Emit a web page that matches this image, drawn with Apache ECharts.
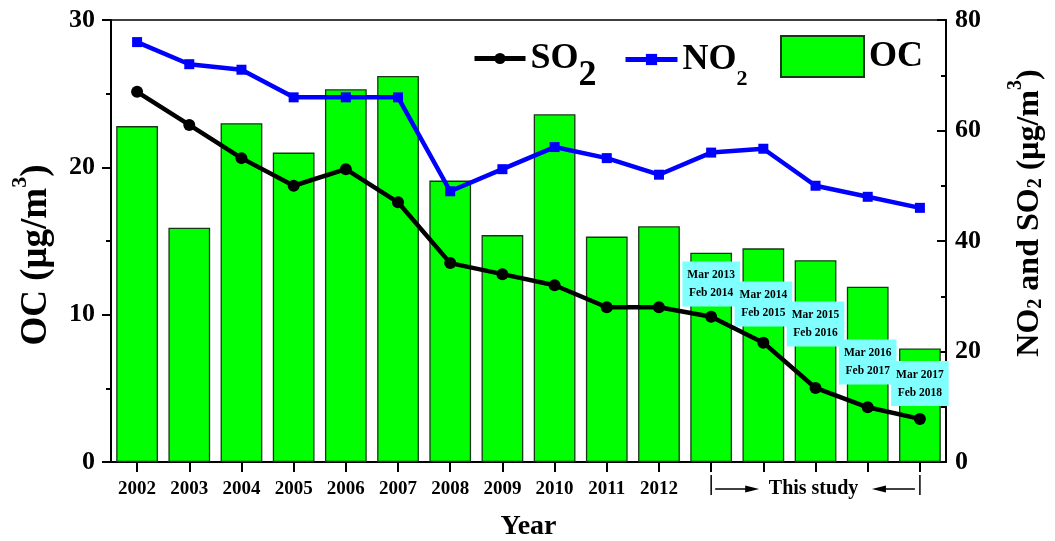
<!DOCTYPE html>
<html><head><meta charset="utf-8">
<script src="https://cdn.jsdelivr.net/npm/echarts@6/dist/echarts.min.js"></script>
<style>html,body{margin:0;padding:0;background:#fff}#c{width:1055px;height:541px}</style>
</head><body><div id="c"></div>
<script>
const categories = ['2002','2003','2004','2005','2006','2007','2008','2009','2010','2011','2012','2013-2014','2014-2015','2015-2016','2016-2017','2017-2018'];
const tickLabels = ['2002','2003','2004','2005','2006','2007','2008','2009','2010','2011','2012','','','','',''];
const ocValues  = [22.8,15.9,23.0,21.0,25.3,26.2,19.1,15.4,23.6,15.3,16.0,14.2,14.5,13.7,11.9,7.7];
const no2Values = [76,72,71,66,66,66,49,53,57,55,52,56,56.7,50,48,46];
const so2Values = [67,61,55,50,53,47,36,34,32,28,28,26.3,21.6,13.4,9.9,7.8];
const studyNotes = ['Mar 2013\nFeb 2014','Mar 2014\nFeb 2015','Mar 2015\nFeb 2016','Mar 2016\nFeb 2017','Mar 2017\nFeb 2018'];
const studyCats = categories.slice(11);
const noteLevels = [32.2,28.6,25.0,18.1,14.2];

const F = 'Liberation Serif, Times New Roman, serif';
const chart = echarts.init(document.getElementById('c'));

const bold = {fontFamily: F, fontWeight: 'bold', color: '#000'};
const richSO = {
  a: Object.assign({fontSize: 36, lineHeight: 36, verticalAlign: 'middle'}, bold),
  b: Object.assign({fontSize: 36, lineHeight: 71, verticalAlign: 'bottom'}, bold)
};
const richNO = {
  a: Object.assign({fontSize: 36, lineHeight: 36, verticalAlign: 'middle'}, bold),
  c: Object.assign({fontSize: 22, lineHeight: 61, verticalAlign: 'bottom'}, bold)
};
function legendBase(left, top, name, w, h, fmt, rich, icon) {
  const l = {
    left: left, top: top, padding: 0, itemWidth: w, itemHeight: h, data: [name],
    formatter: fmt, selectedMode: false,
    lineStyle: {width: 5},
    textStyle: {fontFamily: F, fontWeight: 'bold', fontSize: 36, color: '#000', rich: rich}
  };
  if (icon) l.icon = icon;
  return l;
}

const option = {
  animation: false,
  backgroundColor: '#fff',
  grid: {left: 111, right: 109, top: 20, bottom: 79, outerBoundsMode: 'none', containLabel: false,
         show: true, borderColor: '#000', borderWidth: 1.5, backgroundColor: 'transparent'},
  legend: [
    legendBase(472, 40.5, 'SO2', 51, 14, () => '{a|SO}{b|2}', richSO),
    legendBase(623, 41.5, 'NO2', 52, 14, () => '{a|NO}{c|2}', richNO),
    legendBase(780, 35, 'OC', 83, 41, () => 'OC', {}, 'rect')
  ],
  xAxis: {
    type: 'category', data: categories,
    name: 'Year', nameLocation: 'middle', nameGap: 51,
    nameTextStyle: {fontFamily: F, fontWeight: 'bold', fontSize: 28, color: '#000'},
    axisLine: {lineStyle: {color: '#000', width: 2}},
    axisTick: {show: true, alignWithLabel: true, interval: 0, length: 10, lineStyle: {color: '#000', width: 2}},
    axisLabel: {interval: 0, margin: 18, formatter: (v, i) => tickLabels[i], fontFamily: F, fontWeight: 'bold', fontSize: 19, color: '#000'},
    splitLine: {show: false}
  },
  yAxis: [
    {
      type: 'value', min: 0, max: 30, interval: 10, position: 'left',
      axisLine: {show: true, lineStyle: {color: '#000', width: 2}},
      axisTick: {show: true, length: 9, lineStyle: {color: '#000', width: 2}},
      minorTick: {show: true, splitNumber: 2, length: 5, lineStyle: {color: '#000', width: 2}},
      axisLabel: {margin: 16, fontFamily: F, fontWeight: 'bold', fontSize: 26, color: '#000'},
      splitLine: {show: false}, minorSplitLine: {show: false}
    },
    {
      type: 'value', min: 0, max: 80, interval: 20, position: 'right',
      axisLine: {show: true, lineStyle: {color: '#000', width: 2}},
      axisTick: {show: true, inside: true, length: 9, lineStyle: {color: '#000', width: 2}},
      minorTick: {show: true, splitNumber: 2, length: 5, lineStyle: {color: '#000', width: 2}},
      axisLabel: {margin: 9, fontFamily: F, fontWeight: 'bold', fontSize: 26, color: '#000'},
      splitLine: {show: false}, minorSplitLine: {show: false}
    }
  ],
  series: [
    {
      name: 'OC', type: 'bar', yAxisIndex: 0, data: ocValues, barWidth: '80%', z: 2,
      itemStyle: {color: '#00FF00', borderColor: '#163816', borderWidth: 1.3}
    },
    {
      name: 'notes', type: 'scatter', yAxisIndex: 1, z: 3, symbol: 'rect', symbolSize: 1,
      itemStyle: {color: 'rgba(0,0,0,0)', opacity: 1},
      data: studyCats.map((c, i) => ({value: [c, noteLevels[i]], note: studyNotes[i]})),
      label: {
        show: true, position: 'inside', formatter: p => p.data.note, opacity: 1,
        backgroundColor: '#80FFFF', padding: [6, 5, 3, 5], lineHeight: 18,
        fontFamily: F, fontWeight: 'bold', fontSize: 11.5, color: '#000'
      },
      emphasis: {disabled: true},
      silent: true
    },
    {
      name: 'NO2', type: 'line', yAxisIndex: 1, data: no2Values, z: 4,
      symbol: 'rect', symbolSize: 10, showAllSymbol: true,
      lineStyle: {color: '#0000FF', width: 4.5}, itemStyle: {color: '#0000FF'}
    },
    {
      name: 'SO2', type: 'line', yAxisIndex: 1, data: so2Values, z: 5,
      symbol: 'circle', symbolSize: 12, showAllSymbol: true,
      lineStyle: {color: '#000', width: 4.5}, itemStyle: {color: '#000'}
    }
  ]
};
chart.setOption(option);

// axis titles and "This study" bracket
const titleRich = {
  a: {fontFamily: F, fontWeight: 'bold', fontSize: 37, lineHeight: 45, verticalAlign: 'bottom', fill: '#000'},
  p: {fontFamily: F, fontWeight: 'bold', fontSize: 22, lineHeight: 22, verticalAlign: 'top', fill: '#000'}
};
const titleRichR = {
  a: {fontFamily: F, fontWeight: 'bold', fontSize: 32, lineHeight: 40, verticalAlign: 'bottom', fill: '#000'},
  s: {fontFamily: F, fontWeight: 'bold', fontSize: 20, lineHeight: 20, verticalAlign: 'bottom', fill: '#000'},
  p: {fontFamily: F, fontWeight: 'bold', fontSize: 20, lineHeight: 20, verticalAlign: 'top', fill: '#000'}
};
const xa = chart.convertToPixel({xAxisIndex: 0}, studyCats[0]);
const xb = chart.convertToPixel({xAxisIndex: 0}, studyCats[studyCats.length - 1]);
const y0 = chart.convertToPixel({yAxisIndex: 0}, 0);
const ya = y0 + 27;
const blk = {fill: '#000'};
chart.setOption({
  graphic: [
    {type: 'text', x: 32, y: 255, rotation: Math.PI / 2,
     style: {text: '{a|OC (μg/m}{p|3}{a|)}', rich: titleRich, align: 'center', verticalAlign: 'middle'}},
    {type: 'text', x: 1026, y: 213, rotation: Math.PI / 2,
     style: {text: '{a|NO}{s|2}{a| and SO}{s|2}{a| (μg/m}{p|3}{a|)}', rich: titleRichR, align: 'center', verticalAlign: 'middle'}},
    {type: 'line', shape: {x1: xa, y1: y0 + 13, x2: xa, y2: y0 + 33}, style: {stroke: '#000', lineWidth: 1.5}},
    {type: 'line', shape: {x1: xb, y1: y0 + 13, x2: xb, y2: y0 + 33}, style: {stroke: '#000', lineWidth: 1.5}},
    {type: 'line', shape: {x1: xa + 4, y1: ya, x2: xa + 36, y2: ya}, style: {stroke: '#000', lineWidth: 1.5}},
    {type: 'polygon', shape: {points: [[xa + 34, ya - 3.5], [xa + 48, ya], [xa + 34, ya + 3.5]]}, style: blk},
    {type: 'line', shape: {x1: xb - 5, y1: ya, x2: xb - 36, y2: ya}, style: {stroke: '#000', lineWidth: 1.5}},
    {type: 'polygon', shape: {points: [[xb - 34, ya - 3.5], [xb - 48, ya], [xb - 34, ya + 3.5]]}, style: blk},
    {type: 'text', x: (xa + xb) / 2 - 2, y: ya,
     style: {text: 'This study', font: 'bold 20px ' + F, fill: '#000', align: 'center', verticalAlign: 'middle'}}
  ]
});
</script>
</body></html>
